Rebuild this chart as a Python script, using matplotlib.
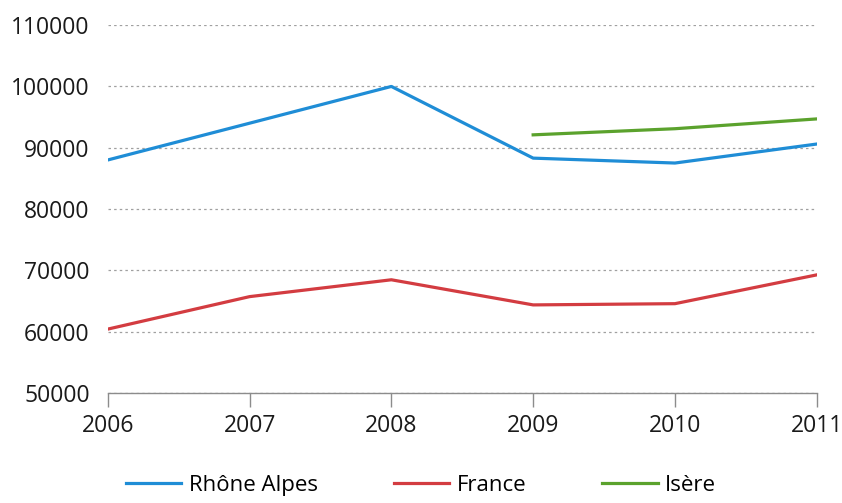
import matplotlib.pyplot as plt

years = [2006, 2007, 2008, 2009, 2010, 2011]
rhone_alpes = [88000, 94000, 100000, 88300, 87500, 90600]
france = [60400, 65700, 68450, 64350, 64550, 69250]
isere_years = [2009, 2010, 2011]
isere = [92100, 93100, 94700]
y_ticks = [50000, 60000, 70000, 80000, 90000, 100000, 110000]

plt.rcParams['font.family'] = ['Open Sans', 'DejaVu Sans']

fig = plt.figure(figsize=(8.42, 5.03), dpi=100)
ax = fig.add_axes([0.128, 0.219, 0.842, 0.731])

ax.plot(years, rhone_alpes, color='#1f8dd6', lw=2.3, label='Rhône Alpes')
ax.plot(years, france, color='#d33c41', lw=2.3, label='France')
ax.plot(isere_years, isere, color='#5ba22d', lw=2.3, label='Isère')

ax.set_xlim(2006, 2011)
ax.set_ylim(50000, 110000)
ax.set_xticks(years)
ax.set_yticks(y_ticks)
ax.tick_params(axis='both', labelsize=16.5, colors='#1a1a1a')
ax.tick_params(axis='y', length=0, pad=13)
ax.tick_params(axis='x', direction='out', length=10, width=1, color='#8c8c8c', pad=5)

ax.grid(axis='y', color='#a0a0a0', linestyle=(0, (2, 2.5)), linewidth=0.9)
ax.set_axisbelow(True)
for side in ['left', 'right', 'top']:
    ax.spines[side].set_visible(False)
ax.spines['bottom'].set_color('#8c8c8c')
ax.spines['bottom'].set_linewidth(1)

# legend sits at the very bottom, nudged up so the labels are not clipped
fig.legend(loc='center', bbox_to_anchor=(0.5, 0.035), ncol=3, frameon=False,
           fontsize=16, handlelength=2.5, handletextpad=0.35, columnspacing=3.4,
           borderpad=0)

fig.savefig('out.png', dpi=100)
